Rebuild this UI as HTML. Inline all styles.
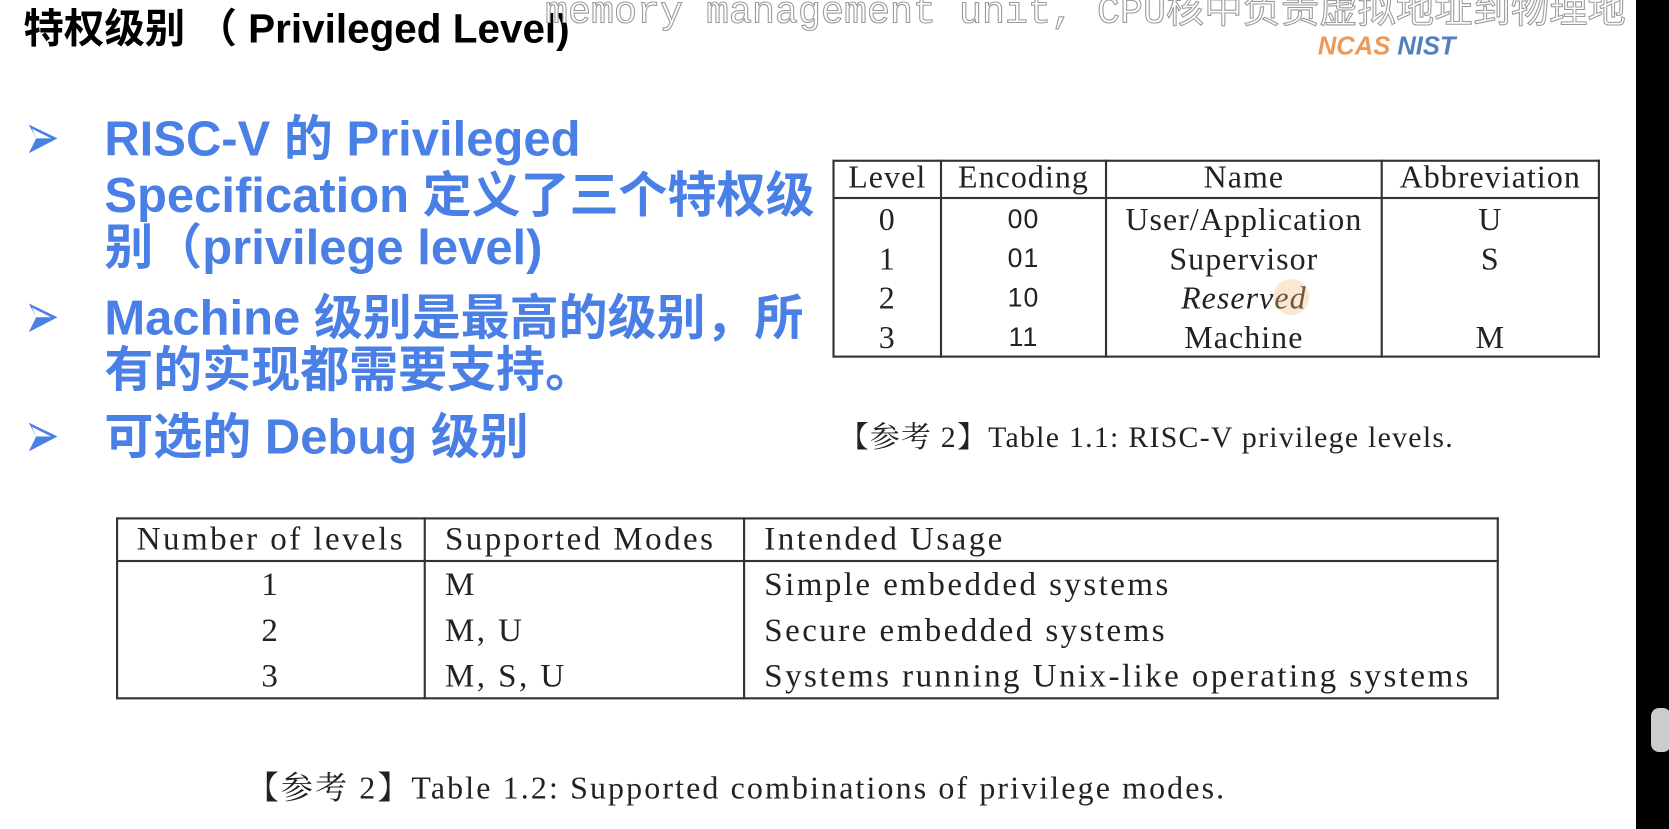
<!DOCTYPE html>
<html><head><meta charset="utf-8"><style>
body{margin:0;width:1669px;height:829px;background:#fff;position:relative;overflow:hidden;font-family:"Liberation Sans","Noto Sans CJK SC",sans-serif}
#w{position:absolute;left:0;top:0;width:1568px;height:779px;transform:scale(1.0645);transform-origin:0 0}
.a{position:absolute;white-space:nowrap}
.b{color:#4a7fe6;font-weight:bold;font-size:46px;line-height:50px}
.s{font-family:"Liberation Serif","Noto Serif CJK SC",serif;color:#222;font-size:30px;letter-spacing:1px;text-align:center;line-height:30px}
.t{font-size:31px;letter-spacing:2.3px;line-height:43px}
.hl{position:absolute;background:#333;height:2px}
.vl{position:absolute;background:#333;width:2px}
</style></head><body>
<div id="w">
<div class="a" style="left:22px;top:6px;font-size:38px;font-weight:bold;color:#000;line-height:44px">特权级别 （ Privileged Level)</div>
<div class="a" style="left:512px;top:-10px;font-family:'Liberation Mono','Noto Sans CJK SC',monospace;font-size:36px;color:#fff;-webkit-text-stroke:1px #999;line-height:44px">memory management unit, CPU核中负责虚拟地址到物理地</div>
<div class="a" style="left:1238px;top:30px;font-size:24px;font-weight:bold;font-style:italic;color:#e88030;opacity:.8">NCAS <span style="color:#2a5fb0">NIST</span></div>

<svg class="a" style="left:26px;top:116px" width="30" height="30" viewBox="0 0 30 30"><path d="M1 1 L28 14 L1 28 L8 14 Z" fill="#4a7fe6"/><path d="M4 5 L22 14 L8 14 Z" fill="#fff"/></svg>
<svg class="a" style="left:26px;top:284px" width="30" height="30" viewBox="0 0 30 30"><path d="M1 1 L28 14 L1 28 L8 14 Z" fill="#4a7fe6"/><path d="M4 5 L22 14 L8 14 Z" fill="#fff"/></svg>
<svg class="a" style="left:26px;top:396px" width="30" height="30" viewBox="0 0 30 30"><path d="M1 1 L28 14 L1 28 L8 14 Z" fill="#4a7fe6"/><path d="M4 5 L22 14 L8 14 Z" fill="#fff"/></svg>
<div class="a b" style="left:98px;top:105px">RISC-V 的 Privileged</div>
<div class="a b" style="left:98px;top:158px">Specification 定义了三个特权级</div>
<div class="a b" style="left:98px;top:207px">别（privilege level)</div>
<div class="a b" style="left:98px;top:273px">Machine 级别是最高的级别，所</div>
<div class="a b" style="left:98px;top:322px">有的实现都需要支持。</div>
<div class="a b" style="left:98px;top:385px">可选的 Debug 级别</div>

<!-- table 1 -->
<div class="hl" style="left:783px;top:150px;width:720px"></div>
<div class="hl" style="left:783px;top:185px;width:720px"></div>
<div class="hl" style="left:783px;top:334px;width:720px"></div>
<div class="vl" style="left:782px;top:150px;height:186px"></div>
<div class="vl" style="left:883px;top:150px;height:186px"></div>
<div class="vl" style="left:1038px;top:150px;height:186px"></div>
<div class="vl" style="left:1297px;top:150px;height:186px"></div>
<div class="vl" style="left:1501px;top:150px;height:186px"></div>
<div class="a s" style="left:784px;top:152px;width:99px">Level</div>
<div class="a s" style="left:885px;top:152px;width:153px">Encoding</div>
<div class="a s" style="left:1040px;top:152px;width:257px">Name</div>
<div class="a s" style="left:1299px;top:152px;width:202px">Abbreviation</div>
<div class="a s" style="left:784px;top:188px;width:99px;line-height:37px">0<br>1<br>2<br>3</div>
<div class="a s" style="left:885px;top:188px;width:153px;font-family:'Liberation Sans',sans-serif;font-size:25px;line-height:37px">00<br>01<br>10<br>11</div>
<div class="a s" style="left:1040px;top:188px;width:257px;line-height:37px">User/Application<br>Supervisor<br><i>Reserved</i><br>Machine</div>
<div class="a s" style="left:1299px;top:188px;width:202px;line-height:37px">U<br>S<br><br>M</div>
<div class="a" style="left:1196px;top:262px;width:34px;height:34px;border-radius:50%;background:rgba(240,190,120,.35)"></div>
<div class="a s" style="left:788px;top:397px;font-size:28px;letter-spacing:1.2px">【参考 2】Table 1.1: RISC-V privilege levels.</div>

<!-- table 2 -->
<div class="hl" style="left:110px;top:486px;width:1298px"></div>
<div class="hl" style="left:110px;top:526px;width:1298px"></div>
<div class="hl" style="left:110px;top:655px;width:1298px"></div>
<div class="vl" style="left:109px;top:486px;height:171px"></div>
<div class="vl" style="left:398px;top:486px;height:171px"></div>
<div class="vl" style="left:698px;top:486px;height:171px"></div>
<div class="vl" style="left:1406px;top:486px;height:171px"></div>
<div class="a s t" style="left:111px;top:484px;width:287px">Number of levels</div>
<div class="a s t" style="left:418px;top:484px;text-align:left">Supported Modes</div>
<div class="a s t" style="left:718px;top:484px;text-align:left">Intended Usage</div>
<div class="a s t" style="left:111px;top:527px;width:287px">1<br>2<br>3</div>
<div class="a s t" style="left:418px;top:527px;text-align:left">M<br>M, U<br>M, S, U</div>
<div class="a s t" style="left:718px;top:527px;text-align:left">Simple embedded systems<br>Secure embedded systems<br>Systems running Unix-like operating systems</div>
<div class="a s" style="left:232px;top:726px;font-size:30px;letter-spacing:2px">【参考 2】Table 1.2: Supported combinations of privilege modes.</div>
</div>
<div class="a" style="left:1636px;top:0;width:33px;height:829px;background:#000"></div>
<div class="a" style="left:1651px;top:708px;width:20px;height:44px;background:#ccc;border-radius:8px"></div>
</body></html>
